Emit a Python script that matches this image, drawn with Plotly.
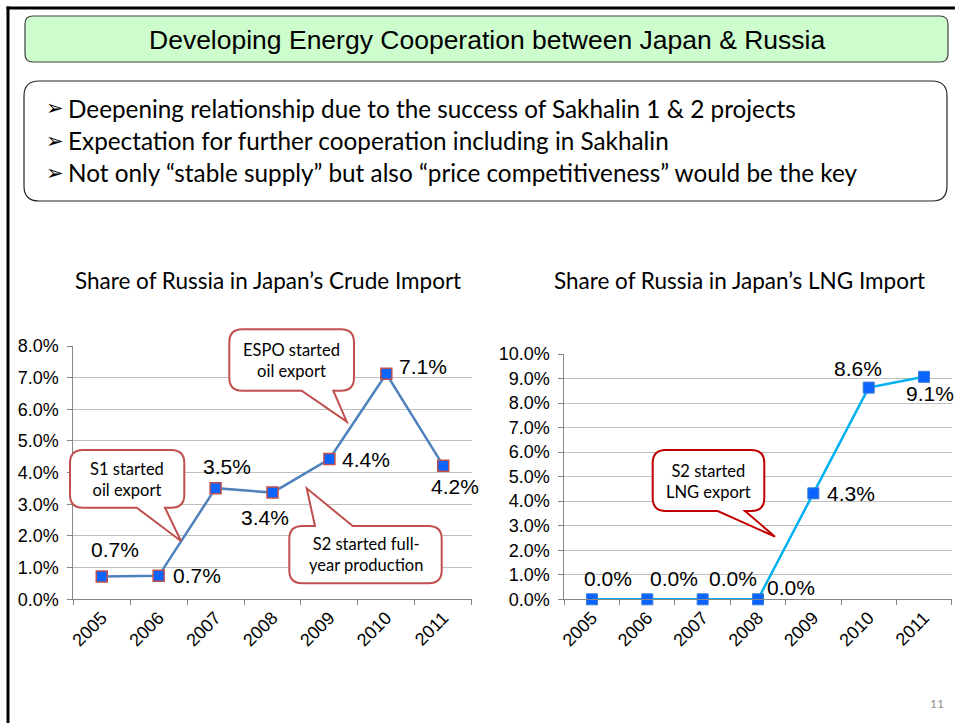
import plotly.graph_objects as go

# ---------------- data ----------------
years = ["2005", "2006", "2007", "2008", "2009", "2010", "2011"]
crude_share = [0.72, 0.74, 3.51, 3.37, 4.43, 7.12, 4.22]   # share of Japan's crude import (percent)
lng_share = [0.0, 0.0, 0.0, 0.0, 4.32, 8.63, 9.07]         # share of Japan's LNG import (percent)
crude_ticks = [0, 1, 2, 3, 4, 5, 6, 7, 8]
lng_ticks = [0, 1, 2, 3, 4, 5, 6, 7, 8, 9, 10]

slide_title = "Developing Energy Cooperation between Japan & Russia"
bullets = [
    "Deepening relationship due to the success of Sakhalin 1 & 2 projects",
    "Expectation for further cooperation including in Sakhalin",
    "Not only \u201cstable supply\u201d but also \u201cprice competitiveness\u201d would be the key",
]
crude_title = "Share of Russia in Japan\u2019s Crude Import"
lng_title = "Share of Russia in Japan\u2019s LNG Import"

# label offsets (pixels) for data labels
crude_lbl_shift = [(13, 27), (38, 0), (11, 22), (-8, -25), (37, 0), (37, 7), (12, -21)]
lng_lbl_shift = [(16, 21), (27, 21), (30, 21), (33, 12), (38, 0), (-11, 19), (6, -17)]

W, H = 955, 723
ARIAL = "Liberation Sans, Arial, sans-serif"
CAL = "Lato, Carlito, Calibri, sans-serif"
PCT = "\u0025"


def px(x):
    return x / W


def py(y):
    return 1 - y / H


def P(x, y):
    return f"{px(x):.5f},{py(y):.5f}"


def pct(v):
    return "{:.1f}".format(v) + PCT


def rrect(x0, y0, x1, y1, r, tail=None):
    """Rounded rect path in pixel coords; tail=(side, a, b, tipx, tipy)."""
    s = f"M{P(x0 + r, y0)}"
    if tail and tail[0] == "top":
        _, a, b, tx, ty = tail
        s += f" L{P(a, y0)} L{P(tx, ty)} L{P(b, y0)}"
    s += f" L{P(x1 - r, y0)} Q{P(x1, y0)} {P(x1, y0 + r)}"
    s += f" L{P(x1, y1 - r)} Q{P(x1, y1)} {P(x1 - r, y1)}"
    if tail and tail[0] == "bottom":
        _, a, b, tx, ty = tail
        s += f" L{P(b, y1)} L{P(tx, ty)} L{P(a, y1)}"
    s += f" L{P(x0 + r, y1)} Q{P(x0, y1)} {P(x0, y1 - r)}"
    s += f" L{P(x0, y0 + r)} Q{P(x0, y0)} {P(x0 + r, y0)} Z"
    return s


fig = go.Figure()

fig.add_trace(go.Scatter(
    x=years, y=crude_share, mode="lines+markers", xaxis="x", yaxis="y",
    line=dict(color="#4f81bd", width=2.5),
    marker=dict(symbol="square", size=11, color="#0a64ff",
                line=dict(color="#c0504d", width=1.5)),
    showlegend=False, hoverinfo="skip",
))
fig.add_trace(go.Scatter(
    x=years, y=lng_share, mode="lines+markers", xaxis="x2", yaxis="y2",
    line=dict(color="#00b0f0", width=2.5),
    marker=dict(symbol="square", size=11, color="#0a64ff",
                line=dict(color="#3a7bd5", width=1)),
    showlegend=False, hoverinfo="skip", cliponaxis=False,
))

axis_common = dict(
    showline=True, linecolor="#868686", linewidth=1,
    ticks="outside", ticklen=5, tickcolor="#868686",
    zeroline=False, fixedrange=True, automargin=False,
)
xcommon = dict(
    axis_common, type="category", categoryorder="array", categoryarray=years,
    range=[-0.5, 6.5], tickson="boundaries", showgrid=False, tickangle=-45,
    tickfont=dict(family=ARIAL, size=18, color="#000"),
)
ycommon = dict(
    axis_common, showgrid=True, gridcolor="#bfbfbf", gridwidth=1,
    tickmode="array", ticklabelstandoff=5,
    tickfont=dict(family=ARIAL, size=18, color="#000"),
)

fig.update_layout(
    template="none",
    width=W, height=H, margin=dict(l=0, r=0, t=0, b=0, pad=0, autoexpand=False),
    paper_bgcolor="white", plot_bgcolor="white",
    xaxis=dict(xcommon, domain=[px(73.3), px(471.7)], anchor="y"),
    yaxis=dict(ycommon, domain=[py(599.3), py(346)], range=[0, 8],
               tickvals=crude_ticks, ticktext=[pct(t) for t in crude_ticks], anchor="x"),
    xaxis2=dict(xcommon, domain=[px(564.3), px(951.7)], anchor="y2"),
    yaxis2=dict(ycommon, domain=[py(599.3), py(354)], range=[0, 10],
                tickvals=lng_ticks, ticktext=[pct(t) for t in lng_ticks], anchor="x2"),
)

shapes = []
# slide border
shapes.append(dict(type="line", xref="paper", yref="paper", x0=px(6.5), y0=py(8), x1=1.01, y1=py(8),
                   line=dict(color="black", width=3)))
shapes.append(dict(type="line", xref="paper", yref="paper", x0=px(8), y0=py(6.5), x1=px(8), y1=-0.01,
                   line=dict(color="black", width=3)))
# title box
shapes.append(dict(type="path", xref="paper", yref="paper", path=rrect(25, 16, 948, 62, 8),
                   fillcolor="#cdfccd", line=dict(color="#404040", width=1.2), layer="below"))
# bullet box
shapes.append(dict(type="path", xref="paper", yref="paper", path=rrect(24, 81, 947, 201, 15),
                   fillcolor="white", line=dict(color="#262626", width=1.2), layer="below"))
# callouts
callouts = [
    (229.3, 329.3, 354, 390.7, ("bottom", 301.7, 333.3, 346.7, 421.7), "#c0504d", "ESPO started<br>oil export", 291.7, 360.5),
    (70, 450, 184.3, 507.7, ("bottom", 136.7, 165, 181, 541), "#c0504d", "S1 started<br>oil export", 127, 479.5),
    (289.3, 526, 441.7, 583.3, ("top", 315, 352.7, 306.7, 488.3), "#c0504d", "S2 started full-<br>year production", 365.5, 554.3),
    (652.7, 450, 764.3, 511, ("bottom", 717.7, 745, 775, 536.7), "#c00000", "S2 started<br>LNG export", 708.5, 481.5),
]
annotations = []
for x0, y0, x1, y1, tail, col, txt, tx, ty in callouts:
    shapes.append(dict(type="path", xref="paper", yref="paper", path=rrect(x0, y0, x1, y1, 13, tail),
                       fillcolor="white", line=dict(color=col, width=2), layer="above"))
    annotations.append(dict(xref="paper", yref="paper", x=px(tx), y=py(ty), text=txt, showarrow=False,
                            xanchor="center", yanchor="middle", align="center",
                            font=dict(family=CAL, size=16.5, color="#000")))

# slide title
annotations.append(dict(xref="paper", yref="paper", x=px(487), y=py(40), text=slide_title, showarrow=False,
                        xanchor="center", yanchor="middle", font=dict(family=ARIAL, size=26.5, color="#000")))
# bullets
for b, yy in zip(bullets, [108, 140.6, 172.5]):
    annotations.append(dict(xref="paper", yref="paper", x=px(44), y=py(yy), text="\u27a2", showarrow=False,
                            xanchor="left", yanchor="middle", font=dict(family="DejaVu Sans", size=21, color="#000")))
    annotations.append(dict(xref="paper", yref="paper", x=px(66), y=py(yy), text=b, showarrow=False,
                            xanchor="left", yanchor="middle", font=dict(family=CAL, size=24.3, color="#000")))
# chart titles
annotations.append(dict(xref="paper", yref="paper", x=px(268), y=py(281), text=crude_title, showarrow=False,
                        xanchor="center", yanchor="middle", font=dict(family=CAL, size=22.5, color="#000")))
annotations.append(dict(xref="paper", yref="paper", x=px(739), y=py(281), text=lng_title, showarrow=False,
                        xanchor="center", yanchor="middle", font=dict(family=CAL, size=22.5, color="#000")))
# data labels
for i, (v, (dx, dy)) in enumerate(zip(crude_share, crude_lbl_shift)):
    annotations.append(dict(xref="x", yref="y", x=i, y=v, text=pct(v), showarrow=False,
                            xshift=dx, yshift=dy, xanchor="center", yanchor="middle",
                            font=dict(family=ARIAL, size=21, color="#000")))
for i, (v, (dx, dy)) in enumerate(zip(lng_share, lng_lbl_shift)):
    annotations.append(dict(xref="x2", yref="y2", x=i, y=v, text=pct(v), showarrow=False,
                            xshift=dx, yshift=dy, xanchor="center", yanchor="middle",
                            font=dict(family=ARIAL, size=21, color="#000")))
# page number
annotations.append(dict(xref="paper", yref="paper", x=px(937), y=py(703), text="11", showarrow=False,
                        xanchor="center", yanchor="middle", font=dict(family=CAL, size=12, color="#8c8c8c")))

fig.update_layout(shapes=shapes, annotations=annotations)
fig.write_html("out.html", config={"displayModeBar": False, "staticPlot": True},
               post_script="document.body.style.margin='0px';document.body.style.overflow='hidden';")
